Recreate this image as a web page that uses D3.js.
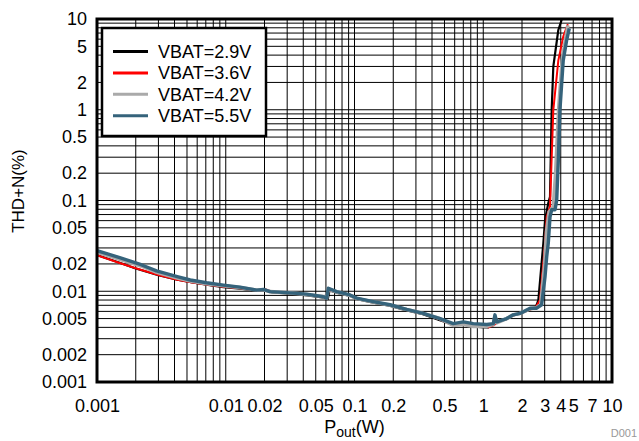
<!DOCTYPE html>
<html>
<head>
<meta charset="utf-8">
<script src="https://cdn.jsdelivr.net/npm/d3@7"></script>
<style>
  html, body { margin: 0; padding: 0; background: #fff; }
  svg { display: block; font-family: "Liberation Sans", Arial, sans-serif; }
</style>
</head>
<body>
<svg id="chart" width="639" height="441"></svg>
<script>
// ---- data ----
const seriesNames = ["VBAT=2.9V", "VBAT=3.6V", "VBAT=4.2V", "VBAT=5.5V"];
const seriesColors = ["#000000", "#ff0000", "#aaaaaa", "#35637b"];

const pout29 = [0.001, 0.0015, 0.002, 0.003, 0.0042, 0.0055, 0.0075, 0.0096, 0.013, 0.0175, 0.02, 0.023, 0.032, 0.043, 0.058, 0.062, 0.064, 0.075, 0.092, 0.105, 0.14, 0.19, 0.25, 0.34, 0.46, 0.58, 0.7, 0.84, 1.0, 1.1, 1.2, 1.3, 1.5, 1.7, 1.95, 2.3, 2.55, 2.68, 2.93, 3.02, 3.2, 3.3, 3.4, 3.5, 3.83, 4.06, 4.12];
const thd29  = [0.025, 0.0206, 0.0178, 0.015, 0.0134, 0.0125, 0.0117, 0.0111, 0.0107, 0.0101, 0.0103, 0.0097, 0.0094, 0.009, 0.0085, 0.0082, 0.0102, 0.0095, 0.0089, 0.0082, 0.0075, 0.0069, 0.0062, 0.0056, 0.0048, 0.0043, 0.0043, 0.0041, 0.004, 0.004, 0.0043, 0.0047, 0.0049, 0.0054, 0.0057, 0.0063, 0.0066, 0.008, 0.034, 0.061, 0.094, 0.11, 0.99, 2.98, 7.57, 9.75, 10.5];

const pout36 = [0.001, 0.0015, 0.002, 0.003, 0.0042, 0.0055, 0.0075, 0.0096, 0.013, 0.0175, 0.02, 0.023, 0.032, 0.043, 0.058, 0.061, 0.063, 0.075, 0.092, 0.105, 0.14, 0.19, 0.25, 0.34, 0.46, 0.58, 0.7, 0.84, 1.0, 1.1, 1.2, 1.3, 1.5, 1.7, 1.95, 2.3, 2.55, 2.76, 3.0, 3.11, 3.3, 3.5, 3.83, 4.18, 4.54];
const thd36  = [0.025, 0.0205, 0.0179, 0.0151, 0.0134, 0.0125, 0.0117, 0.0112, 0.0108, 0.0102, 0.0106, 0.0098, 0.0096, 0.0092, 0.0086, 0.0084, 0.0104, 0.0097, 0.009, 0.0083, 0.0076, 0.007, 0.0063, 0.0057, 0.0049, 0.0042, 0.0043, 0.0041, 0.0041, 0.004, 0.0042, 0.0046, 0.0049, 0.0054, 0.0057, 0.0063, 0.0066, 0.008, 0.03, 0.066, 0.086, 0.99, 3.5, 6.4, 8.8];

const pout42 = [0.001, 0.0015, 0.0022, 0.0029, 0.0042, 0.0053, 0.0071, 0.0096, 0.0129, 0.0174, 0.0196, 0.0221, 0.0316, 0.0425, 0.0573, 0.0608, 0.0626, 0.0727, 0.0923, 0.104, 0.14, 0.189, 0.254, 0.342, 0.461, 0.585, 0.70, 0.837, 1.064, 1.197, 1.233, 1.271, 1.52, 1.71, 1.93, 2.31, 2.6, 2.8, 3.0, 3.1, 3.25, 3.5, 3.65, 3.85, 4.1, 4.4, 4.55];
const thd42  = [0.027, 0.0225, 0.019, 0.0162, 0.014, 0.013, 0.0121, 0.0115, 0.011, 0.0103, 0.0104, 0.0099, 0.0096, 0.0092, 0.0087, 0.0084, 0.0106, 0.0098, 0.009, 0.0083, 0.0076, 0.007, 0.0063, 0.0057, 0.005, 0.0042, 0.0043, 0.0041, 0.0041, 0.0043, 0.0053, 0.0045, 0.005, 0.0055, 0.0057, 0.0064, 0.0066, 0.0072, 0.02, 0.045, 0.075, 0.085, 0.2, 1.0, 3.5, 6.5, 8.5];

const pout55 = [0.001, 0.0015, 0.0022, 0.0029, 0.0042, 0.0053, 0.0071, 0.0096, 0.0129, 0.0174, 0.0196, 0.0221, 0.0316, 0.0425, 0.0573, 0.0608, 0.0626, 0.0727, 0.0923, 0.104, 0.14, 0.189, 0.254, 0.342, 0.461, 0.585, 0.70, 0.837, 1.064, 1.197, 1.233, 1.271, 1.52, 1.71, 1.93, 2.31, 2.6, 2.84, 3.02, 3.11, 3.2, 3.3, 3.4, 3.61, 3.72, 3.83, 3.94, 4.18, 4.45, 4.66];
const thd55  = [0.028, 0.0235, 0.0196, 0.0168, 0.0145, 0.0133, 0.0124, 0.0117, 0.0111, 0.0103, 0.0105, 0.0099, 0.0096, 0.0093, 0.0087, 0.0084, 0.0108, 0.0099, 0.0091, 0.0084, 0.0077, 0.0071, 0.0063, 0.0057, 0.005, 0.0044, 0.0046, 0.0044, 0.0043, 0.0044, 0.0055, 0.0046, 0.005, 0.0055, 0.0057, 0.0065, 0.0065, 0.0071, 0.0145, 0.024, 0.034, 0.066, 0.079, 0.079, 0.101, 0.28, 0.99, 3.5, 5.9, 7.9];

const xTickValues = [0.001, 0.01, 0.02, 0.05, 0.1, 0.2, 0.5, 1, 2, 3, 4, 5, 7, 10];
const xTickLabels = ["0.001", "0.01", "0.02", "0.05", "0.1", "0.2", "0.5", "1", "2", "3", "4", "5", "7", "10"];
const yTickValues = [0.001, 0.002, 0.005, 0.01, 0.02, 0.05, 0.1, 0.2, 0.5, 1, 2, 5, 10];
const yTickLabels = ["0.001", "0.002", "0.005", "0.01", "0.02", "0.05", "0.1", "0.2", "0.5", "1", "2", "5", "10"];

// ---- drawing ----
const svg = d3.select("#chart");
const L = 97, R = 612, T = 19, B = 382;
const x = d3.scaleLog().domain([0.001, 10]).range([L, R]);
const y = d3.scaleLog().domain([0.001, 10]).range([B, T]);

// grid lines (1..9 x each decade)
const gridVals = [];
[0.001, 0.01, 0.1, 1].forEach(d => { for (let k = 1; k <= 9; k++) gridVals.push(+(k * d).toPrecision(3)); });
gridVals.push(10);

const grid = svg.append("g");
grid.selectAll("line.v").data(gridVals).join("line")
  .attr("x1", d => x(d)).attr("x2", d => x(d))
  .attr("y1", T).attr("y2", B)
  .attr("stroke", "#000").attr("stroke-width", 1);
grid.selectAll("line.h").data(gridVals).join("line")
  .attr("y1", d => y(d)).attr("y2", d => y(d))
  .attr("x1", L).attr("x2", R)
  .attr("stroke", "#000").attr("stroke-width", 1);

svg.append("defs").append("clipPath").attr("id", "clip")
  .append("rect").attr("x", L).attr("y", T).attr("width", R - L).attr("height", B - T);

const series = [
  { name: seriesNames[0], color: seriesColors[0], w: 2.2, p: pout29, t: thd29 },
  { name: seriesNames[1], color: seriesColors[1], w: 2, p: pout36, t: thd36 },
  { name: seriesNames[2], color: seriesColors[2], w: 3.6, p: pout42, t: thd42 },
  { name: seriesNames[3], color: seriesColors[3], w: 3.4, p: pout55, t: thd55 }
];
const line = d3.line().x(d => x(d[0])).y(d => y(d[1]));
const drawOrder = [0, 1, 2, 3];
const lines = svg.append("g").attr("clip-path", "url(#clip)");
drawOrder.forEach(i => {
  const s = series[i];
  lines.append("path")
    .datum(s.p.map((v, j) => [v, s.t[j]]))
    .attr("d", line)
    .attr("fill", "none")
    .attr("stroke", s.color)
    .attr("stroke-width", s.w)
    .attr("stroke-linejoin", "round");
});

// frame
svg.append("rect").attr("x", L).attr("y", T).attr("width", R - L).attr("height", B - T)
  .attr("fill", "none").attr("stroke", "#000").attr("stroke-width", 3);

// axes
const xAxis = d3.axisBottom(x).tickValues(xTickValues)
  .tickFormat((d, i) => xTickLabels[i]).tickSize(0).tickPadding(17);
const gx = svg.append("g").attr("transform", `translate(0,${B})`).call(xAxis);
gx.select(".domain").remove();
gx.selectAll("text").attr("font-size", 18).attr("font-family", "Liberation Sans, Arial, sans-serif").attr("fill", "#000");

const yAxis = d3.axisLeft(y).tickValues(yTickValues)
  .tickFormat((d, i) => yTickLabels[i]).tickSize(0).tickPadding(10);
const gy = svg.append("g").attr("transform", `translate(${L},0)`).call(yAxis);
gy.select(".domain").remove();
gy.selectAll("text").attr("font-size", 18).attr("font-family", "Liberation Sans, Arial, sans-serif").attr("fill", "#000");

// axis titles
svg.append("text").attr("transform", "translate(24,191) rotate(-90)")
  .attr("text-anchor", "middle").attr("font-size", 17).text("THD+N(%)");
const xt = svg.append("text").attr("x", 354.5).attr("y", 433)
  .attr("text-anchor", "middle").attr("font-size", 18);
xt.append("tspan").text("P");
xt.append("tspan").attr("font-size", 14).attr("dy", 4).text("out");
xt.append("tspan").attr("dy", -4).text("(W)");

svg.append("text").attr("x", 637).attr("y", 437).attr("text-anchor", "end")
  .attr("font-size", 11).attr("fill", "#999").text("D001");

// legend
const lg = svg.append("g");
lg.append("rect").attr("x", 102).attr("y", 28).attr("width", 164).attr("height", 108)
  .attr("fill", "#fff").attr("stroke", "#000").attr("stroke-width", 2.5);
series.forEach((s, i) => {
  const yy = 51.5 + i * 21.4;
  lg.append("line").attr("x1", 113).attr("x2", 148).attr("y1", yy).attr("y2", yy)
    .attr("stroke", s.color).attr("stroke-width", 3);
  lg.append("text").attr("x", 158).attr("y", yy).attr("dy", "0.36em")
    .attr("font-size", 18).text(s.name);
});
</script>
</body>
</html>
